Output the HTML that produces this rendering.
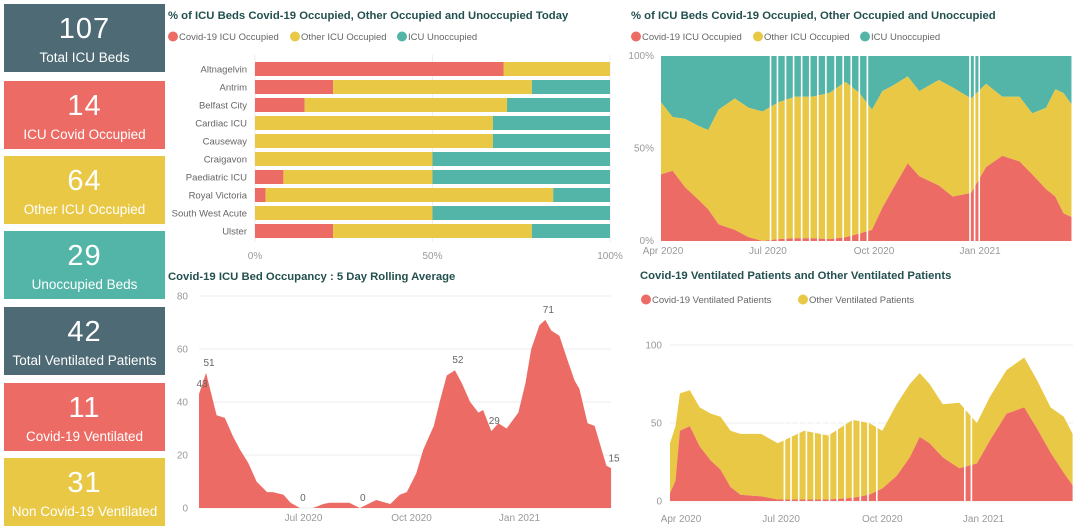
<!DOCTYPE html>
<html><head><meta charset="utf-8">
<style>
body{margin:0;width:1080px;height:530px;background:#fff;overflow:hidden;font-family:"Liberation Sans","DejaVu Sans",sans-serif;position:relative}
.card{position:absolute;left:4px;width:161px;height:68px;color:#fff;text-align:center}
.card .num{font-size:29px;line-height:30px;margin-top:10px;letter-spacing:1px}
.card .lbl{font-size:13.5px;line-height:16px;margin-top:6px;white-space:nowrap}
svg{position:absolute;left:0;top:0}
</style></head><body>
<div class="card" style="top:4px;background:#4E6A75"><div class="num">107</div><div class="lbl">Total ICU Beds</div></div>
<div class="card" style="top:81px;background:#EC6C65"><div class="num">14</div><div class="lbl">ICU Covid Occupied</div></div>
<div class="card" style="top:156px;background:#E9C846"><div class="num">64</div><div class="lbl">Other ICU Occupied</div></div>
<div class="card" style="top:231px;background:#52B5A8"><div class="num">29</div><div class="lbl">Unoccupied Beds</div></div>
<div class="card" style="top:307px;background:#4E6A75"><div class="num">42</div><div class="lbl">Total Ventilated Patients</div></div>
<div class="card" style="top:383px;background:#EC6C65"><div class="num">11</div><div class="lbl">Covid-19 Ventilated</div></div>
<div class="card" style="top:458px;background:#E9C846"><div class="num">31</div><div class="lbl">Non Covid-19 Ventilated</div></div>
<svg id="s" width="1080" height="530"></svg>
<script>
// ---- bar chart data ----
const hospitals=["Altnagelvin","Antrim","Belfast City","Cardiac ICU","Causeway","Craigavon","Paediatric ICU","Royal Victoria","South West Acute","Ulster"];
const hospCovid=[70,22,14,0,0,0,8,3,0,22];
const hospOther=[30,56,57,67,67,50,42,81,50,56];
const hospUnocc=[0,22,29,33,33,50,50,16,50,22];
const pctTicks=["0%","50%","100%"];
// ---- stacked % chart (days from 1 Apr 2020) ----
const pctDays=[0,10,21,33,41,50,64,76,88,102,116,131,146,160,172,183,192,201,214,224,241,253,269,282,296,311,322,334,342,349,356];
const pctCovid=[36,38,29,22,17,9,6,2,0,1,1.5,1.5,1,2,4,6,18,28,42,35,30,24,26,40,46,43,36,28,24,15,13];
const pctOther=[39,29,37,40,43,62,71,70,70,74,76.5,76.5,79,84,76,65,63,56,47,46,57,59,51,45,32,35,33,44,58,65,61];
const pctGapDays=[95,101,108,115,122,129,136,143,151,158,165,172,179,268,272,276];
const dateLabels=["Apr 2020","Jul 2020","Oct 2020","Jan 2021"];
const pctTickDays=[0,91,183,275];
// ---- rolling average (days from 3 Apr 2020) ----
const rollDays=[0,6,15,22,29,35,42,49,58,63,72,78,86,97,106,111,128,137,151,163,171,177,185,191,200,205,211,218,224,231,238,242,249,255,262,272,278,283,290,295,300,307,313,320,324,331,337,343,347,351];
const rollVals=[43,51,35,34,27,22,17,10,6,6,5,2,0,0,1.5,2,2,0,3,1.5,5,6,13,22,31,40,50,52,47,40,36,37,29,32,30,36,47,60,69,71,67,65,57,48,45,32,31,22,16,15];
const rollTicks=[0,20,40,60,80];
const rollTickDays=[89,181,273];
const rollLabelText=["43","51","0","0","52","29","71","15"];
const rollLabelIdx=[0,1,12,17,27,32,39,49];
// ---- ventilated (days from 22 Mar 2020) ----
const ventDays=[0,5,9,18,27,37,46,55,64,83,98,122,144,166,181,193,206,218,227,236,248,263,279,291,306,322,334,346,358,366];
const ventCovid=[5,13,45,48,35,26,20,9,4,3,1,1,1,2,4,8,16,28,41,37,28,21,24,39,56,60,46,31,18,10];
const ventOther=[32,35,24,23,25,30,34,36,39,40,36,44,41,50,46,37,46,47,41,38,34,42,26,28,28,32,31,29,36,33];
const ventGapDays=[104,110,117,124,131,138,145,152,159,166,173,180,188,268,274];
const ventTicks=[0,50,100];
const ventTickDays=[10,101,193,285];

const C_RED="#EC6C65",C_YEL="#E9C846",C_TEAL="#52B5A8",TXT="#777",TITLE="#23504f",GRID="#eeeeee";
const svg=document.getElementById('s');
const NS="http://www.w3.org/2000/svg";
function mk(tag,attrs,parent){const e=document.createElementNS(NS,tag);for(const k in attrs)e.setAttribute(k,attrs[k]);(parent||svg).appendChild(e);return e;}
function txt(x,y,s,attrs){const e=mk('text',Object.assign({x:x,y:y,'font-size':10,fill:TXT},attrs||{}));e.textContent=s;return e;}
function legend(x,y,items){let cx=x;items.forEach(it=>{const c=mk('circle',{cx:cx+5,cy:y-3.5,r:5,fill:it[1]});


const t=txt(cx+11,y,it[0],{'font-size':9.5,fill:'#666'});


cx+=11+it[0].length*5.0+6;});}

// ===== Chart 1: horizontal bars =====
let t=txt(168,19,"% of ICU Beds Covid-19 Occupied, Other Occupied and Unoccupied Today",{'font-size':11.3,'font-weight':'bold',fill:TITLE});


legend(168,40,[["Covid-19 ICU Occupied",C_RED],["Other ICU Occupied",C_YEL],["ICU Unoccupied",C_TEAL]]);
const bx=p=>255+p*3.55;
pctTicks.forEach((s,i)=>{const p=i*50;
const g=mk('line',{x1:bx(p),x2:bx(p),y1:55,y2:242,stroke:GRID});


const l=txt(bx(p),259,s,{'text-anchor':'middle',fill:'#999'});

});
hospitals.forEach((h,i)=>{const cy=69+i*18;
const l=txt(247,cy+3.5,h,{'text-anchor':'end',fill:'#666','font-size':9.5});


const segs=[[hospCovid[i],C_RED],[hospOther[i],C_YEL],[hospUnocc[i],C_TEAL]];let acc=0;
segs.forEach(sg=>{if(sg[0]>0){const r=mk('rect',{x:bx(acc),y:cy-7,width:bx(acc+sg[0])-bx(acc),height:14,fill:sg[1]});

}acc+=sg[0];});});

// ===== Chart 2: stacked % area =====
t=txt(631,19,"% of ICU Beds Covid-19 Occupied, Other Occupied and Unoccupied",{'font-size':11.3,'font-weight':'bold',fill:TITLE});


legend(631,40,[["Covid-19 ICU Occupied",C_RED],["Other ICU Occupied",C_YEL],["ICU Unoccupied",C_TEAL]]);
const px=d=>661+d*1.153, py=p=>241-p*1.85;
function band(xs,xf,yf,lo,hi,fill,name){let d="M"+xf(xs[0])+","+yf(hi[0]);
for(let i=1;i<xs.length;i++)d+="L"+xf(xs[i])+","+yf(hi[i]);
for(let i=xs.length-1;i>=0;i--)d+="L"+xf(xs[i])+","+yf(lo[i]);
const p=mk('path',{d:d+"Z",fill:fill});

}
const zeros=pctDays.map(()=>0), cum=pctDays.map((_,i)=>pctCovid[i]+pctOther[i]), full=pctDays.map(()=>100);
band(pctDays,px,py,cum,full,C_TEAL,'unoccupied-area');
band(pctDays,px,py,pctCovid,cum,C_YEL,'other-occupied-area');
band(pctDays,px,py,zeros,pctCovid,C_RED,'covid-occupied-area');
pctGapDays.forEach(d=>{const g=mk('rect',{x:px(d)-0.8,y:py(100),width:1.6,height:py(0)-py(100),fill:'#fff'});

});
[0,50,100].forEach(v=>{const l=txt(654,py(v)+3,v+"%",{'text-anchor':'end',fill:'#999'});

});
dateLabels.forEach((s,i)=>{const l=txt(px(pctTickDays[i])+2,254,s,{'text-anchor':'middle',fill:'#999'});

});

// ===== Chart 3: rolling average =====
t=txt(168,280,"Covid-19 ICU Bed Occupancy : 5 Day Rolling Average",{'font-size':11.3,'font-weight':'bold',fill:TITLE});


const rx=d=>199+d*1.174, ry=v=>508-v*2.65;
rollTicks.forEach(v=>{const g=mk('line',{x1:199,x2:611,y1:ry(v),y2:ry(v),stroke:GRID});


const l=txt(188,ry(v)+3.5,String(v),{'text-anchor':'end',fill:'#999'});

});
{let d="M"+rx(rollDays[0])+","+ry(0);rollDays.forEach((dd,i)=>d+="L"+rx(dd)+","+ry(rollVals[i]));d+="L"+rx(rollDays[rollDays.length-1])+","+ry(0)+"Z";
const p=mk('path',{d:d,fill:C_RED});

}
rollLabelIdx.forEach((ix,i)=>{const l=txt(rx(rollDays[ix])+3,ry(rollVals[ix])-7,rollLabelText[i],{'text-anchor':'middle',fill:'#666'});

});
["Jul 2020","Oct 2020","Jan 2021"].forEach((s,i)=>{const l=txt(rx(rollTickDays[i]),521,s,{'text-anchor':'middle',fill:'#999'});

});

// ===== Chart 4: ventilated =====
t=txt(640,279,"Covid-19 Ventilated Patients and Other Ventilated Patients",{'font-size':11.3,'font-weight':'bold',fill:TITLE});


legend(641,303,[["Covid-19 Ventilated Patients",C_RED],["Other Ventilated Patients",C_YEL]]);
const vx=d=>670+d*1.1, vy=v=>501-v*1.56;
ventTicks.forEach(v=>{const g=mk('line',{x1:670,x2:1073,y1:vy(v),y2:vy(v),stroke:GRID});


const l=txt(662,vy(v)+3.5,String(v),{'text-anchor':'end',fill:'#999'});

});
const vz=ventDays.map(()=>0), vcum=ventDays.map((_,i)=>ventCovid[i]+ventOther[i]);
band(ventDays,vx,vy,ventCovid,vcum,C_YEL,'other-ventilated-area');
band(ventDays,vx,vy,vz,ventCovid,C_RED,'covid-ventilated-area');
ventGapDays.forEach(d=>{const g=mk('rect',{x:vx(d)-0.8,y:vy(80),width:1.6,height:vy(0)-vy(80),fill:'#fff'});

});
dateLabels.forEach((s,i)=>{const l=txt(vx(ventTickDays[i]),522,s,{'text-anchor':'middle',fill:'#999'});

});
</script>
</body></html>
